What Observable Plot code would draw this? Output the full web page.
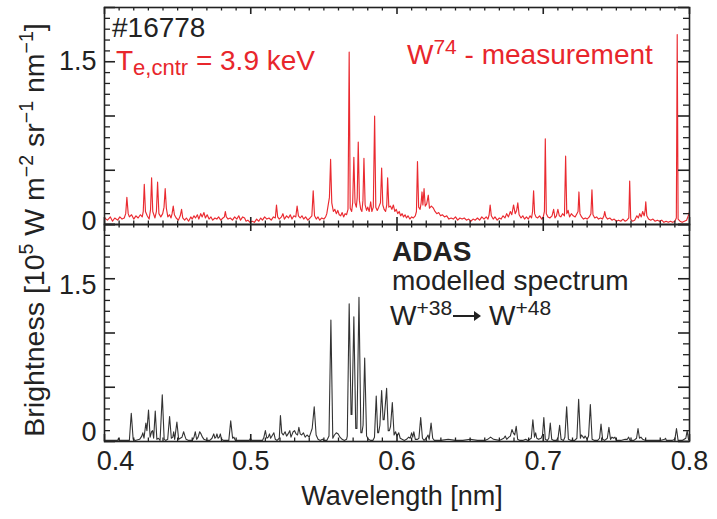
<!DOCTYPE html>
<html><head><meta charset="utf-8">
<script src="https://cdn.jsdelivr.net/npm/d3@7"></script>
<script src="https://cdn.jsdelivr.net/npm/@observablehq/plot@0.6"></script>
<style>
body{margin:0;background:#fff;font-family:"Liberation Sans",Arial,sans-serif;}
#wrap{position:relative;width:717px;height:519px;overflow:hidden;}
.ann{position:absolute;white-space:nowrap;font-size:28px;line-height:1;color:#222;}
.red{color:#e8262c;}
.ann sup{font-size:21px;vertical-align:0.5em;line-height:0;}
.ann sub{font-size:22px;vertical-align:-0.22em;line-height:0;}
#ylab{position:absolute;left:34px;top:230px;transform:translate(-50%,-50%) rotate(-90deg);white-space:nowrap;font-size:28.5px;line-height:1;color:#222;}
#ylab sup{font-size:19.5px;vertical-align:0.55em;line-height:0;}
#xlab{position:absolute;left:402px;top:483px;transform:translateX(-50%);white-space:nowrap;font-size:27px;line-height:1;color:#222;}
.arrow{display:inline-block;width:26px;height:2px;background:#222;position:relative;vertical-align:0.3em;margin-left:1px;margin-right:10px;}
.arrow:after{content:"";position:absolute;right:-2px;top:-4px;border-left:7px solid #222;border-top:5px solid transparent;border-bottom:5px solid transparent;}
</style></head><body><div id="wrap"></div>
<script>
// ---- data ----
const measWavelength = [0.4000,0.4020,0.4040,0.4055,0.4070,0.4090,0.4105,0.4120,0.4135,0.4145,0.4153,0.4162,0.4170,0.4185,0.4200,0.4215,0.4230,0.4245,0.4258,0.4265,0.4272,0.4280,0.4292,0.4305,0.4315,0.4322,0.4330,0.4345,0.4355,0.4363,0.4372,0.4385,0.4398,0.4407,0.4415,0.4423,0.4433,0.4445,0.4455,0.4462,0.4470,0.4478,0.4490,0.4505,0.4518,0.4527,0.4535,0.4548,0.4560,0.4575,0.4590,0.4600,0.4612,0.4622,0.4635,0.4645,0.4658,0.4668,0.4680,0.4690,0.4702,0.4715,0.4728,0.4740,0.4755,0.4768,0.4780,0.4795,0.4810,0.4820,0.4826,0.4833,0.4845,0.4860,0.4875,0.4890,0.4905,0.4918,0.4930,0.4945,0.4958,0.4968,0.4980,0.4995,0.5010,0.5025,0.5040,0.5055,0.5068,0.5080,0.5095,0.5110,0.5125,0.5140,0.5155,0.5168,0.5176,0.5184,0.5195,0.5210,0.5220,0.5230,0.5245,0.5258,0.5270,0.5282,0.5295,0.5308,0.5317,0.5326,0.5338,0.5350,0.5362,0.5375,0.5390,0.5405,0.5418,0.5427,0.5436,0.5448,0.5460,0.5472,0.5485,0.5500,0.5512,0.5520,0.5538,0.5546,0.5554,0.5565,0.5575,0.5585,0.5595,0.5605,0.5615,0.5625,0.5635,0.5645,0.5655,0.5665,0.5673,0.5680,0.5690,0.5697,0.5705,0.5713,0.5722,0.5728,0.5735,0.5743,0.5752,0.5760,0.5767,0.5774,0.5782,0.5792,0.5800,0.5810,0.5820,0.5828,0.5838,0.5847,0.5855,0.5865,0.5875,0.5887,0.5895,0.5903,0.5912,0.5922,0.5930,0.5936,0.5944,0.5955,0.5965,0.5975,0.5985,0.5995,0.6005,0.6015,0.6025,0.6035,0.6045,0.6055,0.6065,0.6075,0.6088,0.6100,0.6112,0.6125,0.6133,0.6140,0.6148,0.6158,0.6165,0.6171,0.6177,0.6185,0.6193,0.6203,0.6214,0.6222,0.6235,0.6249,0.6260,0.6272,0.6285,0.6298,0.6310,0.6325,0.6340,0.6355,0.6370,0.6385,0.6400,0.6415,0.6430,0.6445,0.6460,0.6475,0.6490,0.6505,0.6520,0.6535,0.6550,0.6565,0.6580,0.6595,0.6610,0.6622,0.6630,0.6637,0.6645,0.6658,0.6670,0.6685,0.6700,0.6712,0.6725,0.6738,0.6750,0.6762,0.6775,0.6785,0.6797,0.6808,0.6818,0.6826,0.6835,0.6848,0.6860,0.6872,0.6885,0.6898,0.6910,0.6920,0.6927,0.6934,0.6941,0.6950,0.6962,0.6975,0.6990,0.7000,0.7008,0.7014,0.7021,0.7032,0.7045,0.7060,0.7071,0.7080,0.7090,0.7100,0.7110,0.7120,0.7132,0.7145,0.7153,0.7161,0.7170,0.7180,0.7192,0.7205,0.7218,0.7230,0.7238,0.7244,0.7251,0.7262,0.7275,0.7288,0.7300,0.7315,0.7326,0.7333,0.7340,0.7352,0.7365,0.7378,0.7392,0.7405,0.7415,0.7420,0.7428,0.7440,0.7455,0.7470,0.7485,0.7500,0.7515,0.7530,0.7545,0.7560,0.7572,0.7585,0.7591,0.7598,0.7610,0.7625,0.7640,0.7650,0.7660,0.7670,0.7680,0.7690,0.7696,0.7701,0.7708,0.7720,0.7735,0.7750,0.7765,0.7780,0.7795,0.7810,0.7825,0.7840,0.7855,0.7870,0.7885,0.7900,0.7910,0.7916,0.7922,0.7935,0.7950,0.7965,0.7980,0.7992,0.8000];
const measBrightness = [0.06,0.04,0.07,0.03,0.06,0.04,0.07,0.05,0.06,0.10,0.25,0.10,0.07,0.09,0.05,0.08,0.06,0.09,0.07,0.12,0.37,0.12,0.08,0.05,0.14,0.43,0.12,0.06,0.12,0.39,0.10,0.07,0.10,0.16,0.33,0.15,0.07,0.09,0.06,0.10,0.17,0.09,0.06,0.04,0.08,0.14,0.06,0.04,0.06,0.03,0.07,0.05,0.08,0.06,0.09,0.05,0.10,0.07,0.11,0.06,0.09,0.05,0.07,0.04,0.06,0.05,0.07,0.04,0.06,0.07,0.12,0.07,0.05,0.06,0.04,0.07,0.05,0.08,0.04,0.07,0.06,0.03,0.04,0.02,0.03,0.02,0.05,0.03,0.06,0.04,0.07,0.05,0.06,0.04,0.07,0.06,0.18,0.07,0.05,0.07,0.10,0.05,0.08,0.06,0.09,0.05,0.08,0.07,0.17,0.08,0.06,0.08,0.05,0.07,0.04,0.06,0.08,0.31,0.08,0.05,0.07,0.04,0.06,0.05,0.07,0.10,0.25,0.60,0.20,0.12,0.14,0.10,0.13,0.09,0.08,0.11,0.07,0.10,0.09,0.14,1.59,0.15,0.12,0.20,0.62,0.20,0.16,0.25,0.76,0.22,0.14,0.12,0.22,0.61,0.18,0.13,0.16,0.12,0.21,0.12,0.16,1.00,0.16,0.13,0.16,0.20,0.52,0.18,0.14,0.12,0.18,0.43,0.16,0.17,0.14,0.18,0.12,0.14,0.10,0.12,0.08,0.10,0.07,0.09,0.06,0.08,0.05,0.07,0.06,0.08,0.12,0.58,0.16,0.14,0.20,0.30,0.18,0.33,0.17,0.19,0.27,0.15,0.17,0.15,0.12,0.10,0.11,0.08,0.09,0.07,0.08,0.05,0.06,0.05,0.07,0.04,0.06,0.05,0.06,0.04,0.05,0.03,0.05,0.04,0.06,0.04,0.07,0.05,0.07,0.05,0.09,0.18,0.08,0.05,0.07,0.04,0.06,0.05,0.08,0.06,0.10,0.07,0.12,0.09,0.18,0.10,0.13,0.20,0.09,0.06,0.08,0.05,0.07,0.05,0.08,0.06,0.12,0.31,0.10,0.07,0.06,0.08,0.05,0.07,0.12,0.79,0.10,0.07,0.06,0.08,0.14,0.06,0.08,0.14,0.08,0.07,0.10,0.08,0.63,0.10,0.13,0.07,0.10,0.08,0.07,0.10,0.12,0.30,0.10,0.07,0.05,0.06,0.05,0.07,0.10,0.32,0.09,0.06,0.07,0.05,0.06,0.05,0.08,0.12,0.07,0.05,0.06,0.04,0.05,0.03,0.04,0.03,0.05,0.03,0.04,0.06,0.40,0.05,0.03,0.04,0.08,0.06,0.10,0.07,0.12,0.08,0.12,0.21,0.08,0.05,0.04,0.05,0.03,0.04,0.03,0.04,0.02,0.03,0.02,0.03,0.02,0.03,0.06,1.75,0.05,0.03,0.02,0.03,0.04,0.08,0.12];

const modelWavelength = [0.4000,0.4050,0.4090,0.4096,0.4102,0.4170,0.4183,0.4196,0.4210,0.4240,0.4255,0.4262,0.4270,0.4283,0.4290,0.4301,0.4312,0.4322,0.4329,0.4336,0.4347,0.4358,0.4368,0.4380,0.4395,0.4408,0.4418,0.4432,0.4445,0.4457,0.4467,0.4473,0.4480,0.4495,0.4507,0.4518,0.4530,0.4541,0.4550,0.4558,0.4575,0.4600,0.4612,0.4621,0.4630,0.4640,0.4651,0.4660,0.4670,0.4680,0.4700,0.4720,0.4735,0.4747,0.4755,0.4762,0.4769,0.4776,0.4785,0.4792,0.4800,0.4815,0.4850,0.4863,0.4876,0.4885,0.4895,0.4930,0.4960,0.4990,0.4998,0.5006,0.5050,0.5080,0.5090,0.5100,0.5110,0.5120,0.5128,0.5136,0.5145,0.5158,0.5168,0.5180,0.5195,0.5203,0.5212,0.5222,0.5235,0.5245,0.5255,0.5267,0.5275,0.5290,0.5300,0.5310,0.5320,0.5329,0.5338,0.5348,0.5360,0.5372,0.5385,0.5400,0.5410,0.5420,0.5434,0.5447,0.5460,0.5475,0.5490,0.5505,0.5520,0.5535,0.5548,0.5561,0.5572,0.5585,0.5598,0.5610,0.5625,0.5640,0.5655,0.5660,0.5673,0.5686,0.5692,0.5705,0.5718,0.5726,0.5740,0.5753,0.5760,0.5768,0.5779,0.5792,0.5805,0.5820,0.5835,0.5846,0.5858,0.5868,0.5874,0.5883,0.5895,0.5905,0.5912,0.5929,0.5940,0.5948,0.5956,0.5968,0.5980,0.5990,0.6000,0.6012,0.6022,0.6035,0.6050,0.6065,0.6080,0.6090,0.6100,0.6108,0.6115,0.6125,0.6140,0.6150,0.6162,0.6174,0.6185,0.6200,0.6212,0.6220,0.6233,0.6244,0.6255,0.6300,0.6350,0.6400,0.6450,0.6500,0.6550,0.6600,0.6620,0.6640,0.6660,0.6700,0.6730,0.6740,0.6750,0.6765,0.6775,0.6786,0.6795,0.6805,0.6815,0.6825,0.6840,0.6860,0.6880,0.6895,0.6918,0.6929,0.6940,0.6948,0.6956,0.6968,0.6985,0.6995,0.7004,0.7014,0.7028,0.7038,0.7048,0.7058,0.7072,0.7090,0.7102,0.7112,0.7122,0.7138,0.7148,0.7160,0.7172,0.7190,0.7215,0.7230,0.7242,0.7254,0.7260,0.7268,0.7278,0.7286,0.7300,0.7310,0.7322,0.7334,0.7350,0.7372,0.7385,0.7395,0.7406,0.7420,0.7438,0.7449,0.7460,0.7470,0.7480,0.7490,0.7500,0.7530,0.7560,0.7575,0.7584,0.7593,0.7620,0.7638,0.7648,0.7658,0.7668,0.7680,0.7700,0.7750,0.7800,0.7830,0.7836,0.7842,0.7880,0.7900,0.7911,0.7922,0.7950,0.7975,0.7984,0.7993,0.8000];
const modelBrightness = [0.01,0.01,0.01,0.03,0.01,0.01,0.26,0.02,0.01,0.02,0.05,0.08,0.03,0.17,0.10,0.29,0.04,0.09,0.10,0.03,0.28,0.02,0.03,0.01,0.43,0.02,0.01,0.02,0.23,0.03,0.04,0.09,0.02,0.18,0.02,0.03,0.04,0.09,0.05,0.02,0.01,0.01,0.04,0.09,0.02,0.04,0.09,0.07,0.04,0.02,0.01,0.01,0.03,0.07,0.03,0.04,0.07,0.03,0.04,0.07,0.02,0.01,0.01,0.19,0.03,0.04,0.01,0.01,0.01,0.01,0.03,0.01,0.01,0.01,0.04,0.10,0.03,0.04,0.07,0.03,0.05,0.08,0.02,0.01,0.03,0.24,0.08,0.06,0.09,0.05,0.07,0.10,0.04,0.09,0.10,0.07,0.06,0.13,0.07,0.06,0.08,0.04,0.06,0.04,0.08,0.12,0.32,0.06,0.02,0.01,0.02,0.01,0.01,0.05,1.12,0.03,0.06,0.08,0.07,0.04,0.02,0.01,0.02,0.05,1.27,0.25,0.25,1.15,0.12,0.12,1.33,0.08,0.08,0.15,0.77,0.05,0.02,0.01,0.01,0.04,0.42,0.08,0.08,0.15,0.47,0.20,0.20,0.49,0.10,0.10,0.14,0.36,0.06,0.09,0.05,0.08,0.03,0.02,0.01,0.02,0.04,0.03,0.08,0.04,0.09,0.02,0.02,0.03,0.22,0.03,0.01,0.03,0.06,0.02,0.17,0.03,0.01,0.01,0.02,0.01,0.01,0.02,0.01,0.01,0.02,0.04,0.02,0.01,0.03,0.05,0.02,0.04,0.05,0.11,0.08,0.06,0.14,0.02,0.01,0.01,0.02,0.01,0.03,0.20,0.04,0.08,0.03,0.02,0.03,0.06,0.22,0.02,0.01,0.03,0.17,0.02,0.01,0.01,0.04,0.15,0.02,0.01,0.04,0.32,0.02,0.01,0.01,0.03,0.39,0.03,0.06,0.05,0.03,0.05,0.02,0.05,0.34,0.02,0.01,0.01,0.03,0.16,0.02,0.01,0.03,0.13,0.02,0.04,0.03,0.04,0.01,0.01,0.02,0.02,0.04,0.01,0.01,0.03,0.12,0.03,0.04,0.02,0.01,0.01,0.01,0.02,0.03,0.01,0.01,0.02,0.12,0.01,0.01,0.03,0.10,0.02,0.02];

const panels = ["measurement", "model"];
const xMajorTicks = [0.4, 0.5, 0.6, 0.7, 0.8];
const xMinorTicks = [0.41,0.42,0.43,0.44,0.45,0.46,0.47,0.48,0.49,0.51,0.52,0.53,0.54,0.55,0.56,0.57,0.58,0.59,0.61,0.62,0.63,0.64,0.65,0.66,0.67,0.68,0.69,0.71,0.72,0.73,0.74,0.75,0.76,0.77,0.78,0.79];
const yMajorTicks = [0, 0.5, 1, 1.5, 2];
const yMinorTicks = [0.1,0.2,0.3,0.4,0.6,0.7,0.8,0.9,1.1,1.2,1.3,1.4,1.6,1.7,1.8,1.9];
const yTickLabels = [0, 1.5];
const xTickLabels = [0.4, 0.5, 0.6, 0.7, 0.8];

// ---- layout ----
const W = 717, H = 519;
const mL = 104, mR = 28, mT = 7, mB = 78;
const plotW = W - mL - mR;
const facetH = (H - mT - mB) / 2;
const RED = "#ea2a30", INK = "#222";

const meas = measWavelength.map((w, i) => ({w, b: measBrightness[i], panel: panels[0]}));
const model = modelWavelength.map((w, i) => ({w, b: modelBrightness[i], panel: panels[1]}));

const topPanel = () => panels[0];
const botPanel = () => panels[1];
const yLabelOpts = {y: d => d, text: d => String(d), frameAnchor: "left", textAnchor: "end", dx: -8, fill: INK};

const chart = Plot.plot({
  width: W, height: H,
  marginLeft: mL, marginRight: mR, marginTop: mT, marginBottom: mB,
  style: {fontFamily: "'Liberation Sans', Arial, sans-serif", fontSize: "27px", color: INK, background: "transparent", overflow: "visible"},
  x: {domain: [0.4, 0.8], axis: null},
  y: {domain: [0, 2], axis: null},
  fy: {domain: panels, padding: 0, axis: null},
  marks: [
    Plot.line(meas, {x: "w", y: "b", fy: "panel", stroke: RED, strokeWidth: 1.15, curve: "linear"}),
    Plot.line(model, {x: "w", y: "b", fy: "panel", stroke: "#333", strokeWidth: 1.1, curve: "linear"}),
    // inward ticks: left / right
    Plot.tickY(yMajorTicks, {y: d => d, insetRight: plotW - 11, stroke: INK, strokeWidth: 1.6}),
    Plot.tickY(yMinorTicks, {y: d => d, insetRight: plotW - 6, stroke: INK, strokeWidth: 1.3}),
    Plot.tickY(yMajorTicks, {y: d => d, insetLeft: plotW - 11, stroke: INK, strokeWidth: 1.6}),
    Plot.tickY(yMinorTicks, {y: d => d, insetLeft: plotW - 6, stroke: INK, strokeWidth: 1.3}),
    // inward ticks: bottom / top
    Plot.tickX(xMajorTicks, {x: d => d, insetTop: facetH - 7, stroke: INK, strokeWidth: 1.6}),
    Plot.tickX(xMinorTicks, {x: d => d, insetTop: facetH - 3.5, stroke: INK, strokeWidth: 1.3}),
    Plot.tickX(xMajorTicks, {x: d => d, insetBottom: facetH - 7, stroke: INK, strokeWidth: 1.6}),
    Plot.tickX(xMinorTicks, {x: d => d, insetBottom: facetH - 3.5, stroke: INK, strokeWidth: 1.3}),
    // y tick labels (placed as in the reference)
    Plot.text(yTickLabels.slice(0, 1), {...yLabelOpts, fy: topPanel, dy: -3}),
    Plot.text(yTickLabels.slice(1), {...yLabelOpts, fy: topPanel, dy: 0}),
    Plot.text(yTickLabels.slice(0, 1), {...yLabelOpts, fy: botPanel, dy: -9}),
    Plot.text(yTickLabels.slice(1), {...yLabelOpts, fy: botPanel, dy: 7}),
    // x tick labels
    Plot.axisX(xTickLabels.slice(1), {anchor: "bottom", tickSize: 0, tickPadding: 9, tickFormat: d => String(d), label: null, fill: INK}),
    Plot.text(xTickLabels.slice(0, 1), {x: d => d, fy: botPanel, text: d => String(d), frameAnchor: "bottom", lineAnchor: "top", dy: 9, dx: 11, fill: INK}),
    Plot.frame({stroke: INK, strokeWidth: 1.6})
  ]
});

const wrap = document.getElementById("wrap");
wrap.appendChild(chart);

function ann(html, left, baseline, cls) {
  const d = document.createElement("div");
  d.className = "ann " + (cls || "");
  d.innerHTML = html;
  d.style.left = left + "px";
  d.style.top = (baseline - 23) + "px";
  wrap.appendChild(d);
}
ann("#16778", 112, 37);
ann("T<sub>e,cntr</sub> = 3.9 keV", 116, 70, "red");
ann("W<sup>74</sup> - measurement", 407, 64, "red");
ann("<b>ADAS</b>", 392, 261);
ann("modelled spectrum", 392, 290);
ann("W<sup>+38</sup><span class=\"arrow\"></span>W<sup>+48</sup>", 390, 325);

const yl = document.createElement("div");
yl.id = "ylab";
yl.innerHTML = "Brightness [10<sup>5</sup> W m<sup>−2</sup> sr<sup>−1</sup> nm<sup>−1</sup>]";
wrap.appendChild(yl);
const xl = document.createElement("div");
xl.id = "xlab";
xl.textContent = "Wavelength [nm]";
wrap.appendChild(xl);
</script>
</body></html>
